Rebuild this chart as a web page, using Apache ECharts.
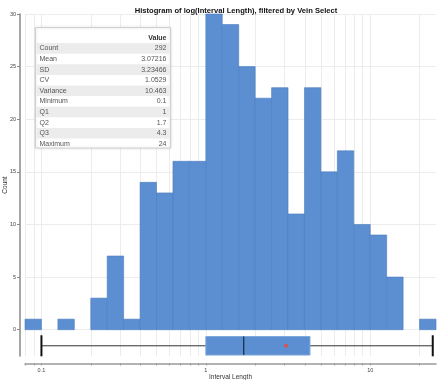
<!DOCTYPE html>
<html>
<head>
<meta charset="utf-8">
<script src="https://cdn.jsdelivr.net/npm/echarts@6/dist/echarts.min.js"></script>
<style>html,body{margin:0;padding:0;background:#fff}#chart{width:441px;height:380px}</style>
</head>
<body>
<div id="chart"></div>
<script>
// ---- data ----
const titleText = 'Histogram of log(Interval Length), filtered by Vein Select';
// lower edges of histogram bins, in log10(Interval Length); each bin is 0.1 wide
const binLowerLog = [-1.1, -1.0, -0.9, -0.8, -0.7, -0.6, -0.5, -0.4, -0.3, -0.2, -0.1, 0.0, 0.1, 0.2, 0.3, 0.4, 0.5, 0.6, 0.7, 0.8, 0.9, 1.0, 1.1, 1.2, 1.3];
const binWidthLog = 0.1;
const binCounts = [1, 0, 1, 0, 3, 7, 1, 14, 13, 16, 16, 30, 29, 25, 22, 23, 11, 23, 15, 17, 10, 9, 5, 0, 1];
const statLabels = ['Count', 'Mean', 'SD', 'CV', 'Variance', 'Minimum', 'Q1', 'Q2', 'Q3', 'Maximum'];
const statValues = ['292', '3.07216', '3.23466', '1.0529', '10.463', '0.1', '1', '1.7', '4.3', '24'];
const boxStats = { min: 0.1, q1: 1, median: 1.7, q3: 4.3, max: 24, mean: 3.07216 };
const xTickValues = [0.08, 0.09, 0.1, 0.2, 0.3, 0.4, 0.5, 0.6, 0.7, 0.8, 0.9, 1, 2, 3, 4, 5, 6, 7, 8, 9, 10, 20];
const xLabelValues = [0.1, 1, 10];
const yTickValues = [0, 5, 10, 15, 20, 25, 30];
const xName = 'Interval Length';
const yName = 'Count';

// ---- chart ----
const chart = echarts.init(document.getElementById('chart'));
const FONT = 'Liberation Sans, Arial, sans-serif';
const histData = binLowerLog.map((lo, i) => [lo, lo + binWidthLog, binCounts[i]]);
const L = Math.log10;
const boxData = [[L(boxStats.min), L(boxStats.q1), L(boxStats.median), L(boxStats.q3), L(boxStats.max), L(boxStats.mean)]];

function fmtLog(v) {
  const p = Math.pow(10, v);
  return String(parseFloat(p.toPrecision(3)));
}

// table graphic
const tbl = { x: 35, y: 27, w: 135, rowH: 10.6 };
const tblChildren = [];
const nRows = statLabels.length + 1;
tblChildren.push({ type: 'rect', z: 100, shape: { x: 0, y: 0, width: tbl.w, height: nRows * tbl.rowH + 4 },
  style: { fill: '#fff', stroke: '#d0d0d0', lineWidth: 1, shadowBlur: 3, shadowColor: 'rgba(0,0,0,0.15)' } });
tblChildren.push({ type: 'text', z: 102, x: tbl.w - 4, y: 5 + tbl.rowH / 2,
  style: { text: 'Value', fill: '#333', font: 'bold 7px ' + FONT, align: 'right', verticalAlign: 'middle' } });
statLabels.forEach((lab, i) => {
  const cy = 5 + tbl.rowH * (i + 1) + tbl.rowH / 2;
  if (i % 2 === 0) {
    tblChildren.push({ type: 'rect', z: 101, shape: { x: 1, y: cy - tbl.rowH / 2, width: tbl.w - 2, height: tbl.rowH },
      style: { fill: '#ececec' } });
  }
  tblChildren.push({ type: 'text', z: 102, x: 4, y: cy,
    style: { text: lab, fill: '#555', font: '7px ' + FONT, align: 'left', verticalAlign: 'middle' } });
  tblChildren.push({ type: 'text', z: 102, x: tbl.w - 4, y: cy,
    style: { text: statValues[i], fill: '#555', font: '7px ' + FONT, align: 'right', verticalAlign: 'middle' } });
});

const option = {
  animation: false,
  title: {
    text: titleText, left: 231, top: 2, textAlign: 'center',
    textStyle: { fontFamily: FONT, fontSize: 7.6, fontWeight: 'bold', color: '#111' }
  },
  grid: { left: 25, right: 5, top: 14, bottom: 24, containLabel: false, outerBoundsMode: 'none' },
  xAxis: {
    type: 'value', min: -1.1, max: 1.4, offset: 7.5,
    name: xName, nameLocation: 'middle', nameGap: 10, nameMoveOverlap: false,
    nameTextStyle: { fontFamily: FONT, fontSize: 6.5, color: '#333' },
    axisLine: { show: true, onZero: false, lineStyle: { color: '#999', width: 1.5 } },
    axisTick: { show: true, length: 2, customValues: xTickValues.map(L), lineStyle: { color: '#999' } },
    axisLabel: { customValues: xLabelValues.map(L), formatter: fmtLog, fontSize: 5.5, fontFamily: FONT, color: '#444', margin: 4 },
    splitLine: { show: true, lineStyle: { color: '#ececec', width: 1 } }
  },
  yAxis: {
    type: 'value', min: -2.5, max: 30, offset: 5,
    name: yName, nameLocation: 'middle', nameGap: 11, nameMoveOverlap: false,
    nameTextStyle: { fontFamily: FONT, fontSize: 6.5, color: '#333' },
    axisLine: { show: true, onZero: false, lineStyle: { color: '#888', width: 1.5 } },
    axisTick: { show: true, length: 3, customValues: yTickValues, lineStyle: { color: '#888' } },
    axisLabel: { customValues: yTickValues, fontSize: 5.5, fontFamily: FONT, color: '#444', margin: 4 },
    splitLine: { show: true, lineStyle: { color: '#ececec', width: 1 } }
  },
  series: [
    {
      type: 'custom', name: 'hist', data: histData, clip: false,
      renderItem: function (params, api) {
        const c = api.value(2);
        if (!c) return null;
        const p0 = api.coord([api.value(0), 0]);
        const p1 = api.coord([api.value(1), c]);
        return { type: 'rect', shape: { x: p0[0], y: p1[1], width: p1[0] - p0[0], height: p0[1] - p1[1] },
          style: { fill: '#5b8fd2', stroke: '#4b7cbc', lineWidth: 0.6 } };
      }
    },
    {
      type: 'custom', name: 'box', data: boxData, clip: false,
      renderItem: function (params, api) {
        const yc = -1.53, bh = 0.88, ch = 1.0;
        const v = i => api.value(i);
        const pMin = api.coord([v(0), yc]), pQ1 = api.coord([v(1), yc + bh]), pQ1b = api.coord([v(1), yc - bh]);
        const pMed = api.coord([v(2), yc]), pQ3 = api.coord([v(3), yc]), pMax = api.coord([v(4), yc]);
        const pMean = api.coord([v(5), yc]);
        const capTop = api.coord([v(0), yc + ch])[1], capBot = api.coord([v(0), yc - ch])[1];
        return { type: 'group', children: [
          { type: 'line', shape: { x1: pMin[0], y1: pMin[1], x2: pMax[0], y2: pMax[1] }, style: { stroke: '#333', lineWidth: 1 } },
          { type: 'rect', shape: { x: pQ1[0], y: pQ1[1], width: pQ3[0] - pQ1[0], height: pQ1b[1] - pQ1[1] },
            style: { fill: '#5b8fd2', stroke: '#7fa8dc', lineWidth: 1 } },
          { type: 'line', shape: { x1: pMed[0], y1: pQ1[1], x2: pMed[0], y2: pQ1b[1] }, style: { stroke: '#1a2a40', lineWidth: 1.2 } },
          { type: 'line', shape: { x1: pMin[0], y1: capTop, x2: pMin[0], y2: capBot }, style: { stroke: '#111', lineWidth: 2 } },
          { type: 'line', shape: { x1: pMax[0], y1: capTop, x2: pMax[0], y2: capBot }, style: { stroke: '#111', lineWidth: 2 } },
          { type: 'circle', shape: { cx: pMean[0], cy: pMean[1], r: 2 }, style: { fill: '#d9534f' } }
        ] };
      }
    }
  ],
  graphic: [{ type: 'group', left: tbl.x, top: tbl.y, z: 100, children: tblChildren }]
};
chart.setOption(option);
</script>
</body>
</html>
